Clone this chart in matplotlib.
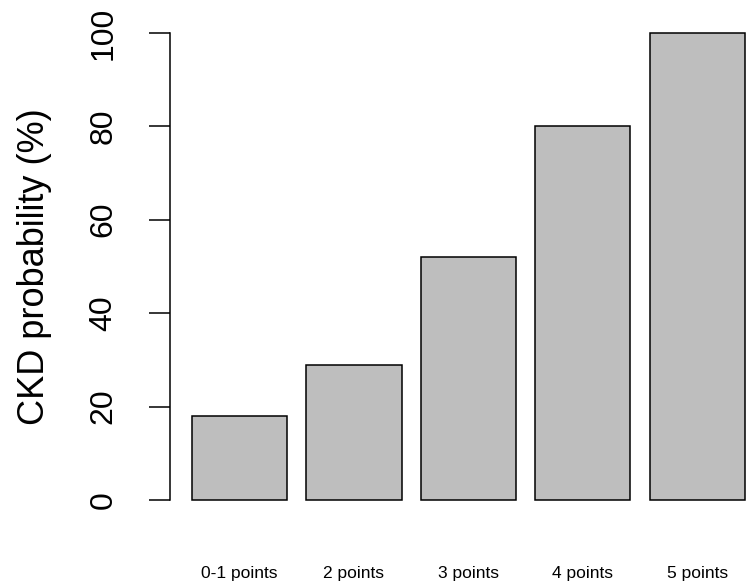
import numpy as np
import matplotlib
matplotlib.use("Agg")
import matplotlib.pyplot as plt

plt.rcParams['font.family'] = ['Liberation Sans', 'DejaVu Sans']

categories = ["0-1 points", "2 points", "3 points", "4 points", "5 points"]
probability = [18, 29, 52, 80, 100]
yticks = [0, 20, 40, 60, 80, 100]

# R barplot layout: width 1, space 0.2
bar_w = 1.0
space = 0.2
centers = space + bar_w / 2 + np.arange(len(categories)) * (bar_w + space)

fig = plt.figure(figsize=(7.5, 5.86), dpi=100)
ax = fig.add_axes([0.2263, 0.1149, 0.7964, 0.8608])

ax.bar(centers, probability, width=bar_w, color="#BEBEBE",
       edgecolor="black", linewidth=1.1)

ax.set_xlim(-0.032, 6.232)
ax.set_ylim(-4, 104)

for s in ["top", "right", "bottom"]:
    ax.spines[s].set_visible(False)
ax.spines["left"].set_bounds(0, 100)
ax.spines["left"].set_linewidth(1.1)

ax.set_yticks(yticks)
ax.set_yticklabels([str(t) for t in yticks], fontsize=23)
plt.setp(ax.get_yticklabels(), rotation=90, va="center")
ax.tick_params(axis="y", length=15, width=1.1, pad=22)

ax.set_xticks(centers)
ax.set_xticklabels(categories, fontsize=12.5)
ax.tick_params(axis="x", length=0, pad=34)

ax.set_ylabel("CKD probability (%)", fontsize=26)
ax.yaxis.set_label_coords(-0.197, 0.5)

fig.savefig("out.png", dpi=100)
